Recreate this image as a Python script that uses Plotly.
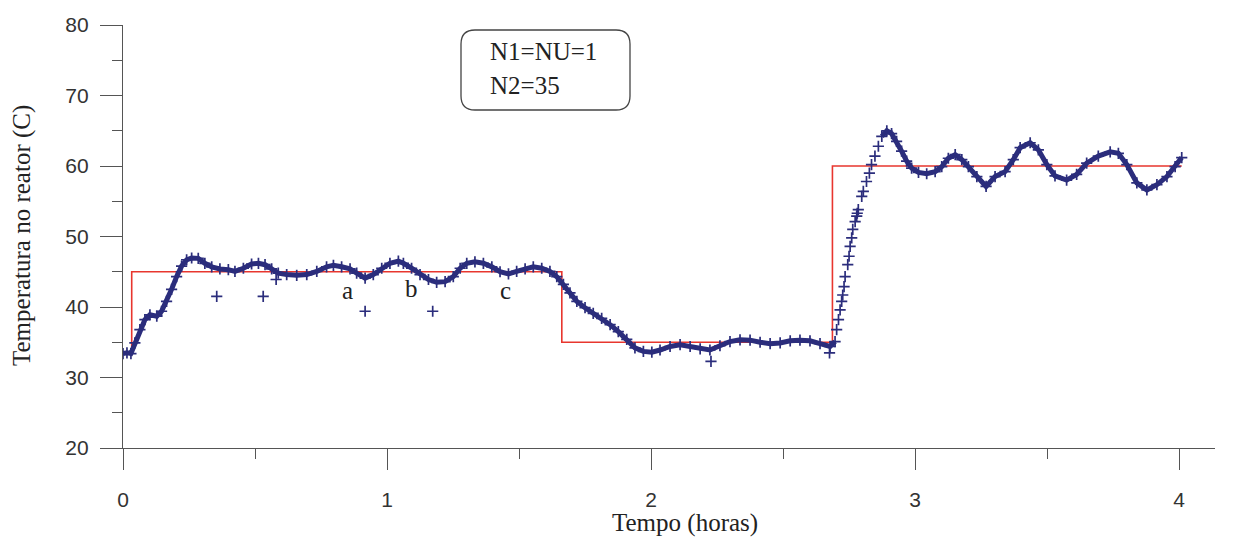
import plotly.graph_objects as go

# ---------------- data ----------------
hours_a = [0.0, 0.015, 0.03, 0.045, 0.064, 0.083, 0.102, 0.128, 0.146, 0.165, 0.184, 0.203,
           0.222, 0.241, 0.26, 0.285, 0.31, 0.336, 0.367, 0.399, 0.424, 0.456, 0.487, 0.513,
           0.538, 0.563, 0.588, 0.62, 0.658, 0.696, 0.734, 0.771, 0.797, 0.828, 0.86, 0.885,
           0.917, 0.948, 0.98, 1.011, 1.043, 1.062, 1.093, 1.125, 1.157, 1.188, 1.22, 1.251,
           1.277, 1.302, 1.333, 1.365, 1.397, 1.428, 1.46, 1.491, 1.523, 1.554, 1.586, 1.617,
           1.643, 1.668, 1.693, 1.719, 1.75, 1.781, 1.813, 1.845, 1.876, 1.908, 1.939, 1.971,
           2.003, 2.034, 2.072, 2.11, 2.148, 2.186, 2.223, 2.261, 2.299, 2.337, 2.375, 2.413,
           2.451, 2.489, 2.527, 2.564, 2.602, 2.64, 2.678, 2.697]
temp_a = [33.4, 33.5, 33.4, 34.9, 36.8, 38.2, 38.9, 38.7, 39.4, 40.8, 42.5, 44.3,
          45.8, 46.7, 46.95, 46.9, 46.2, 45.7, 45.4, 45.3, 45.05, 45.5, 46.1, 46.2,
          46.0, 45.4, 44.8, 44.6, 44.5, 44.6, 45.05, 45.7, 45.9, 45.7, 45.4, 44.8,
          44.1, 44.6, 45.5, 46.2, 46.5, 46.2, 45.5, 44.6, 43.9, 43.5, 43.6, 44.3,
          45.5, 46.2, 46.4, 46.2, 45.7, 45.0, 44.7, 45.05, 45.4, 45.7, 45.5, 45.05,
          44.3, 43.2, 42.0, 40.8, 39.9, 39.1, 38.4, 37.5, 36.5, 35.4, 34.2, 33.7,
          33.6, 33.9, 34.4, 34.65, 34.4, 34.05, 33.9, 34.5, 35.1, 35.35, 35.3, 35.0,
          34.8, 34.9, 35.2, 35.3, 35.2, 34.8, 34.4, 35.1]

hours_b = [2.703, 2.71, 2.716, 2.722, 2.726, 2.731, 2.735, 2.745, 2.75, 2.754, 2.76,
           2.764, 2.773, 2.779, 2.781, 2.785, 2.798, 2.804, 2.816, 2.827, 2.835, 2.848, 2.861]
temp_b = [36.8, 38.2, 39.6, 40.8, 41.7, 42.9, 44.3, 46.0, 47.2, 48.6, 49.8,
          51.0, 52.1, 52.9, 53.3, 53.8, 55.7, 56.4, 57.8, 59.0, 60.2, 61.4, 62.8]

hours_c = [2.874, 2.893, 2.911, 2.93, 2.949, 2.968, 2.987, 3.013, 3.044, 3.076, 3.101,
           3.126, 3.152, 3.177, 3.202, 3.234, 3.269, 3.303, 3.341, 3.372, 3.398, 3.436,
           3.467, 3.499, 3.53, 3.574, 3.612, 3.65, 3.694, 3.739, 3.77, 3.802, 3.84, 3.878,
           3.916, 3.954, 3.985, 4.01]
temp_c = [64.2, 65.0, 64.6, 63.5, 62.1, 60.7, 59.7, 59.1, 58.9, 59.2, 59.9,
          61.1, 61.6, 60.9, 59.9, 58.5, 57.1, 58.5, 59.2, 60.9, 62.6, 63.3,
          62.3, 60.2, 58.6, 58.0, 58.8, 60.4, 61.4, 62.0, 61.8, 60.2, 57.6, 56.6,
          57.35, 58.5, 59.9, 61.2]

hours_out = [0.355, 0.531, 0.58, 0.917, 1.173, 2.227, 2.676]
temp_out = [41.5, 41.5, 43.9, 39.4, 39.4, 32.3, 33.5]

sp_hours = [0.0, 0.033, 0.033, 1.662, 1.662, 2.687, 2.687, 4.01]
sp_temp = [33.3, 33.3, 45.0, 45.0, 35.0, 35.0, 60.0, 60.0]

x_ticks = [0, 1, 2, 3, 4]
y_ticks = [20, 30, 40, 50, 60, 70, 80]
point_labels = ["a", "b", "c"]
point_label_x = [0.851, 1.093, 1.447]
point_label_y = [42.4, 42.6, 42.4]
box_lines = ["N1=NU=1", "N2=35"]

# ---------------- style ----------------
NAVY = "#2b2d7c"
RED = "#e8362e"
AXIS = "#555555"
W, H = 1245, 538
ML, MR, MT, MB = 123, 30, 25, 90
PW, PH = W - ML - MR, H - MT - MB

def px_to_paper(px, py):
    return (px - ML) / PW, (H - MB - py) / PH

marker = dict(symbol="cross-thin", size=8, line=dict(width=1.7, color=NAVY), color=NAVY)

fig = go.Figure()
fig.add_trace(go.Scatter(x=sp_hours, y=sp_temp, mode="lines",
                         line=dict(color=RED, width=1.6), hoverinfo="skip"))
fig.add_trace(go.Scatter(x=hours_a, y=temp_a, mode="lines+markers",
                         line=dict(color=NAVY, width=5), marker=marker))
fig.add_trace(go.Scatter(x=hours_b, y=temp_b, mode="markers", marker=marker))
fig.add_trace(go.Scatter(x=hours_c, y=temp_c, mode="lines+markers",
                         line=dict(color=NAVY, width=5), marker=marker))
fig.add_trace(go.Scatter(x=hours_out, y=temp_out, mode="markers", marker=marker))

# rounded box
l, t = px_to_paper(461, 30)
r, b = px_to_paper(630, 110)
rx, ry = 14 / PW, 14 / PH
path = (f"M {l+rx},{t} L {r-rx},{t} Q {r},{t} {r},{t-ry} L {r},{b+ry} Q {r},{b} {r-rx},{b} "
        f"L {l+rx},{b} Q {l},{b} {l},{b+ry} L {l},{t-ry} Q {l},{t} {l+rx},{t} Z")
fig.add_shape(type="path", path=path, xref="paper", yref="paper",
              line=dict(color="#444", width=1.3))

annotations = []
for i, txt in enumerate(box_lines):
    ax, ay = px_to_paper(488, 52 + 33 * i)
    annotations.append(dict(text=txt, x=ax, y=ay, xref="paper", yref="paper",
                            xanchor="left", yanchor="middle", showarrow=False,
                            font=dict(family="Liberation Serif", size=25, color="#222")))
for txt, lx, ly in zip(point_labels, point_label_x, point_label_y):
    annotations.append(dict(text=txt, x=lx, y=ly, xref="x", yref="y", showarrow=False,
                            font=dict(family="Liberation Serif", size=25, color="#222")))
tx, ty = px_to_paper(685, 523)
annotations.append(dict(text="Tempo (horas)", x=tx, y=ty, xref="paper", yref="paper",
                        showarrow=False, xanchor="center", yanchor="middle",
                        font=dict(family="Liberation Serif", size=25, color="#222")))
yx, yy = px_to_paper(22, 236)
annotations.append(dict(text="Temperatura no reator (C)", x=yx, y=yy, xref="paper", yref="paper",
                        showarrow=False, textangle=-90, xanchor="center", yanchor="middle",
                        font=dict(family="Liberation Serif", size=25, color="#222")))

fig.update_layout(
    width=W, height=H, margin=dict(l=ML, r=MR, t=MT, b=MB),
    paper_bgcolor="white", plot_bgcolor="white", showlegend=False,
    annotations=annotations,
    xaxis=dict(range=[0, 4.136], showgrid=False, zeroline=False, showline=True,
               linecolor=AXIS, linewidth=1.2, ticks="outside", ticklen=21, tickwidth=1.2,
               tickcolor=AXIS, tickvals=x_ticks, ticktext=[str(v) for v in x_ticks],
               ticklabelstandoff=12,
               tickfont=dict(family="Liberation Sans", size=21, color="#333"),
               minor=dict(ticks="outside", ticklen=10, tickwidth=1.2, tickcolor=AXIS,
                          tick0=0, dtick=0.5)),
    yaxis=dict(range=[20, 80], showgrid=False, zeroline=False, showline=True,
               linecolor=AXIS, linewidth=1.2, ticks="outside", ticklen=22, tickwidth=1.2,
               tickcolor=AXIS, tickvals=y_ticks, ticktext=[str(v) for v in y_ticks],
               ticklabelstandoff=7,
               tickfont=dict(family="Liberation Sans", size=21, color="#333"),
               minor=dict(ticks="outside", ticklen=10, tickwidth=1.2, tickcolor=AXIS,
                          tick0=20, dtick=5)),
)

fig.write_html("out.html", config={"displayModeBar": False},
               post_script="document.body.style.margin='0';")
